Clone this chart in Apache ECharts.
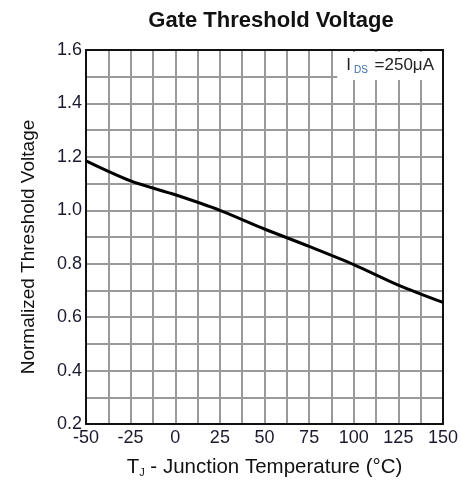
<!DOCTYPE html>
<html>
<head>
<meta charset="utf-8">
<script src="https://cdn.jsdelivr.net/npm/echarts@6/dist/echarts.min.js"></script>
<style>html,body{margin:0;padding:0;background:#fff}#c{width:462px;height:485px}</style>
</head>
<body>
<div id="c"></div>
<script>
var temperature = [-50, -25, 0, 25, 50, 75, 100, 125, 150];
var normVth = [1.185, 1.11, 1.058, 1.0, 0.93, 0.865, 0.797, 0.72, 0.655];
var xTicks = [-50, -25, 0, 25, 50, 75, 100, 125, 150];
var yTicks = [0.2, 0.4, 0.6, 0.8, 1.0, 1.2, 1.4, 1.6];

var chart = echarts.init(document.getElementById('c'));
var font = 'Liberation Sans, Arial, sans-serif';
var gridLine = {show: true, lineStyle: {color: '#9a9a9a', width: 2}};
chart.setOption({
  animation: false,
  title: [
    {text: 'Gate Threshold Voltage', left: 266, top: 5, textAlign: 'center',
     textStyle: {fontFamily: font, fontSize: 22, fontWeight: 'bold', color: '#111'}},
    {text: '{i|I}{s|DS}{i| =250μA}', right: 20, top: 51, backgroundColor: '#fff',
     padding: [5, 8, 5, 9],
     textStyle: {fontWeight: 'normal', rich: {
       i: {fontFamily: font, fontSize: 17, fontWeight: 'normal', color: '#222'},
       s: {fontFamily: font, fontSize: 10, fontWeight: 'normal', color: '#3a6ea8', verticalAlign: 'bottom', padding: [9, 2, 0, 3]}
     }}}
  ],
  grid: {left: 86, right: 19, top: 50, bottom: 61},
  xAxis: [{
    type: 'value', min: -50, max: 150, interval: 25,
    axisLine: {show: true, onZero: false, lineStyle: {color: '#111', width: 2}},
    axisTick: {show: false},
    axisLabel: {fontFamily: font, fontSize: 18, color: '#1a1a2e', margin: 5,
      formatter: function (v) { return xTicks.indexOf(v) >= 0 ? String(v) : ''; }},
    splitLine: gridLine,
    minorTick: {show: false, splitNumber: 2},
    minorSplitLine: gridLine,
    name: '{a|T}{b|J}{a| - Junction Temperature (°C)}',
    nameLocation: 'middle', nameGap: 33,
    nameTextStyle: {rich: {
      a: {fontFamily: font, fontSize: 20.5, color: '#111'},
      b: {fontFamily: font, fontSize: 11, color: '#111', verticalAlign: 'bottom', padding: [10, 0, 0, 0]}
    }}
  }, {
    type: 'value', position: 'top', min: -50, max: 150, interval: 25,
    axisLine: {show: true, onZero: false, lineStyle: {color: '#111', width: 2}},
    axisTick: {show: false}, axisLabel: {show: false}, splitLine: {show: false}
  }],
  yAxis: [{
    type: 'value', min: 0.2, max: 1.6, interval: 0.2,
    axisLine: {show: true, onZero: false, lineStyle: {color: '#111', width: 2}},
    axisTick: {show: false},
    axisLabel: {fontFamily: font, fontSize: 18, color: '#1a1a2e', margin: 4,
      formatter: function (v) { return v.toFixed(1); }},
    splitLine: gridLine,
    minorTick: {show: false, splitNumber: 2},
    minorSplitLine: gridLine,
    name: 'Normalized Threshold Voltage',
    nameLocation: 'middle', nameGap: 48, nameRotate: 90,
    nameTextStyle: {fontFamily: font, fontSize: 19, color: '#111', padding: [0, 20, 0, 0]}
  }, {
    type: 'value', position: 'right', min: 0.2, max: 1.6, interval: 0.2,
    axisLine: {show: true, onZero: false, lineStyle: {color: '#111', width: 2}},
    axisTick: {show: false}, axisLabel: {show: false}, splitLine: {show: false}
  }],
  series: [{
    type: 'line', smooth: 0.3, symbol: 'none',
    data: temperature.map(function (t, i) { return [t, normVth[i]]; }),
    lineStyle: {color: '#000', width: 3}
  }]
});
</script>
</body>
</html>
